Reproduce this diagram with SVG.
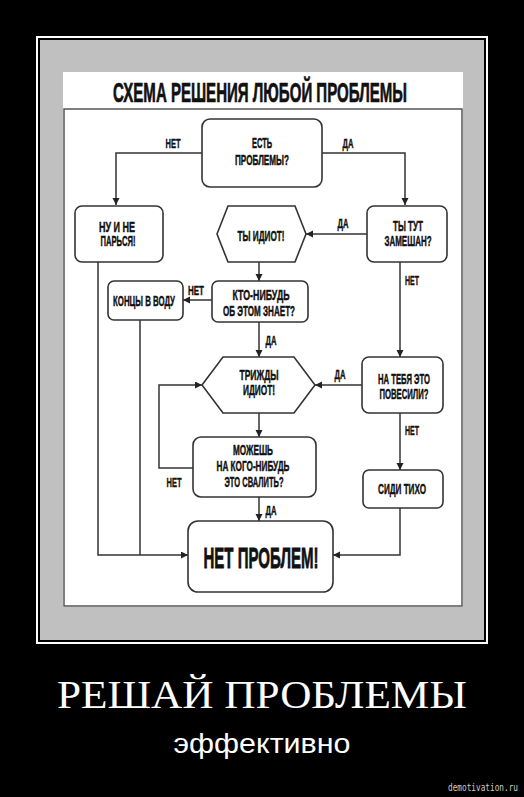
<svg xmlns="http://www.w3.org/2000/svg" width="524" height="797" viewBox="0 0 524 797">
<style>
.node{fill:#fff;stroke:#333;stroke-width:1.6}
.t{font-family:"Liberation Sans Narrow","Liberation Sans",sans-serif;font-weight:bold;fill:#111;stroke:#111;stroke-width:0.45;text-anchor:middle;font-size:14px}
.big{font-size:30px;stroke-width:0.8}
.ttl{font-size:28px;stroke-width:0.7}
.lbl{font-family:"Liberation Sans Narrow","Liberation Sans",sans-serif;font-weight:bold;fill:#111;stroke:#111;stroke-width:0.4;text-anchor:middle;font-size:13.5px}
.conn path{fill:none;stroke:#333;stroke-width:1.5}
</style>
<defs>
<marker id="ah" markerUnits="userSpaceOnUse" markerWidth="8" markerHeight="8" refX="7" refY="3.5" orient="auto">
<path d="M0,0 L7,3.5 L0,7 z" fill="#222"/>
</marker>
</defs>
<rect x="0" y="0" width="524" height="797" fill="#000"/>
<rect x="37" y="37" width="450" height="606" fill="none" stroke="#fff" stroke-width="2"/>
<rect x="40" y="40" width="444" height="600" fill="#c0c0c0"/>
<rect x="63" y="72" width="400" height="535" fill="#fff"/>
<rect x="64" y="109" width="398" height="497" fill="#fff" stroke="#555" stroke-width="1.5"/>
<text x="260" y="102" class="t ttl" textLength="294" lengthAdjust="spacingAndGlyphs">СХЕМА РЕШЕНИЯ ЛЮБОЙ ПРОБЛЕМЫ</text>

<g class="conn">
<path d="M202,153 H116 V205" marker-end="url(#ah)"/>
<path d="M322,153 H405 V205" marker-end="url(#ah)"/>
<path d="M367,234 H306" marker-end="url(#ah)"/>
<path d="M259,262 V281" marker-end="url(#ah)"/>
<path d="M212,300 H183" marker-end="url(#ah)"/>
<path d="M400,262 V357" marker-end="url(#ah)"/>
<path d="M259,322 V357" marker-end="url(#ah)"/>
<path d="M362,385 H315" marker-end="url(#ah)"/>
<path d="M400,413 V470" marker-end="url(#ah)"/>
<path d="M259,413 V437" marker-end="url(#ah)"/>
<path d="M193,468 H159 V385 H202" marker-end="url(#ah)"/>
<path d="M259,497 V521" marker-end="url(#ah)"/>
<path d="M98,262 V555 H188" marker-end="url(#ah)"/>
<path d="M140,320 V555"/>
<path d="M400,508 V555 H333" marker-end="url(#ah)"/>
<text x="173" y="148" class="lbl" textLength="15" lengthAdjust="spacingAndGlyphs">НЕТ</text>
<text x="348" y="148" class="lbl" textLength="11" lengthAdjust="spacingAndGlyphs">ДА</text>
<text x="343" y="228" class="lbl" textLength="11" lengthAdjust="spacingAndGlyphs">ДА</text>
<text x="412" y="285" class="lbl" textLength="14" lengthAdjust="spacingAndGlyphs">НЕТ</text>
<text x="196" y="295" class="lbl" textLength="16" lengthAdjust="spacingAndGlyphs">НЕТ</text>
<text x="271" y="345" class="lbl" textLength="11" lengthAdjust="spacingAndGlyphs">ДА</text>
<text x="340" y="379" class="lbl" textLength="11" lengthAdjust="spacingAndGlyphs">ДА</text>
<text x="412" y="435" class="lbl" textLength="14" lengthAdjust="spacingAndGlyphs">НЕТ</text>
<text x="174" y="487" class="lbl" textLength="15" lengthAdjust="spacingAndGlyphs">НЕТ</text>
<text x="271" y="515" class="lbl" textLength="11" lengthAdjust="spacingAndGlyphs">ДА</text>
</g>

<g id="n-problems">
<rect x="202" y="119" width="120" height="68" rx="8" class="node"/>
<text x="262" y="148" class="t" textLength="20" lengthAdjust="spacingAndGlyphs">ЕСТЬ</text>
<text x="262" y="165" class="t" textLength="54" lengthAdjust="spacingAndGlyphs">ПРОБЛЕМЫ?</text>
</g>
<g id="n-relax">
<rect x="75" y="206" width="88" height="56" rx="7" class="node"/>
<text x="117" y="232" class="t" textLength="36" lengthAdjust="spacingAndGlyphs">НУ И НЕ</text>
<text x="118" y="246" class="t" textLength="35" lengthAdjust="spacingAndGlyphs">ПАРЬСЯ!</text>
</g>
<g id="n-idiot">
<polygon points="217,234 228,206 295,206 306,234 295,262 228,262" class="node"/>
<text x="261" y="241" class="t" textLength="47" lengthAdjust="spacingAndGlyphs">ТЫ ИДИОТ!</text>
</g>
<g id="n-involved">
<rect x="367" y="206" width="80" height="56" rx="7" class="node"/>
<text x="408" y="231" class="t" textLength="30" lengthAdjust="spacingAndGlyphs">ТЫ ТУТ</text>
<text x="408" y="246" class="t" textLength="47" lengthAdjust="spacingAndGlyphs">ЗАМЕШАН?</text>
</g>
<g id="n-knows">
<rect x="212" y="281" width="96" height="41" rx="6" class="node"/>
<text x="261" y="300" class="t" textLength="57" lengthAdjust="spacingAndGlyphs">КТО-НИБУДЬ</text>
<text x="259" y="316" class="t" textLength="72" lengthAdjust="spacingAndGlyphs">ОБ ЭТОМ ЗНАЕТ?</text>
</g>
<g id="n-hide">
<rect x="108" y="281" width="75" height="39" rx="6" class="node"/>
<text x="144" y="306" class="t" textLength="62" lengthAdjust="spacingAndGlyphs">КОНЦЫ В ВОДУ</text>
</g>
<g id="n-triple">
<polygon points="202,385 223,357 294,357 315,385 294,413 223,413" class="node"/>
<text x="259" y="380" class="t" textLength="39" lengthAdjust="spacingAndGlyphs">ТРИЖДЫ</text>
<text x="259" y="395" class="t" textLength="32" lengthAdjust="spacingAndGlyphs">ИДИОТ!</text>
</g>
<g id="n-blamed">
<rect x="362" y="357" width="81" height="56" rx="7" class="node"/>
<text x="404" y="384" class="t" textLength="52" lengthAdjust="spacingAndGlyphs">НА ТЕБЯ ЭТО</text>
<text x="404" y="399" class="t" textLength="49" lengthAdjust="spacingAndGlyphs">ПОВЕСИЛИ?</text>
</g>
<g id="n-quiet">
<rect x="363" y="470" width="80" height="38" rx="6" class="node"/>
<text x="402" y="494" class="t" textLength="48" lengthAdjust="spacingAndGlyphs">СИДИ ТИХО</text>
</g>
<g id="n-blame">
<rect x="193" y="437" width="123" height="60" rx="8" class="node"/>
<text x="253" y="455" class="t" textLength="40" lengthAdjust="spacingAndGlyphs">МОЖЕШЬ</text>
<text x="253" y="471" class="t" textLength="73" lengthAdjust="spacingAndGlyphs">НА КОГО-НИБУДЬ</text>
<text x="254" y="487" class="t" textLength="59" lengthAdjust="spacingAndGlyphs">ЭТО СВАЛИТЬ?</text>
</g>
<g id="n-noproblem">
<rect x="188" y="521" width="145" height="71" rx="10" class="node"/>
<text x="261" y="568" class="t big" textLength="115" lengthAdjust="spacingAndGlyphs">НЕТ ПРОБЛЕМ!</text>
</g>

<text x="262" y="708" font-family="Liberation Serif,serif" font-size="39" fill="#fff" text-anchor="middle" textLength="410" lengthAdjust="spacingAndGlyphs">РЕШАЙ ПРОБЛЕМЫ</text>
<text x="262" y="753" font-family="Liberation Sans,sans-serif" font-size="28" fill="#fff" text-anchor="middle" textLength="177" lengthAdjust="spacingAndGlyphs">эффективно</text>
<text x="518" y="791" font-family="DejaVu Sans Mono,monospace" font-size="10.5" fill="#ccc" text-anchor="end" textLength="70" lengthAdjust="spacingAndGlyphs">demotivation.ru</text>
</svg>
